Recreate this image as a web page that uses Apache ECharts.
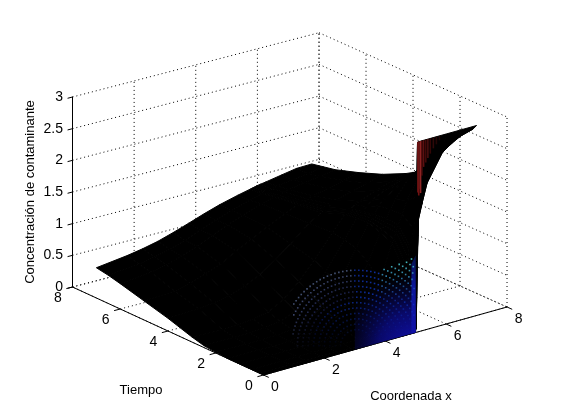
<!DOCTYPE html>
<html><head><meta charset="utf-8">
<style>html,body{margin:0;background:#fff}#c{width:561px;height:420px}</style>
<script src="https://cdn.jsdelivr.net/npm/echarts@6/dist/echarts.min.js"></script>
</head><body><div id="c"></div>
<script>
// Axis ticks
const xTicks = [0, 2, 4, 6, 8];
const tTicks = [0, 2, 4, 6, 8];
const zTicks = [0, 0.5, 1, 1.5, 2, 2.5, 3];
const zTickLabels = ['0', '0.5', '1', '1.5', '2', '2.5', '3'];
const xName = 'Coordenada x', tName = 'Tiempo', zName = 'Concentración de contaminante';

// Surface samples: rows = tiempo, columns = coordenada x
const surfX = [0, 1, 1.5, 2, 2.5, 3, 3.5, 4, 4.6, 5, 5.06, 5.13, 5.17, 5.2, 5.33, 5.49, 6, 6.5, 7];
const surfT = [0, 0.15, 0.5, 1, 1.5, 2, 2.5, 3, 4, 5, 6, 6.5, 7];
const surfZ00 = [0, 0, 0, 0, 0, 0, 0, 0, 0, 0, 3, 3, 3, 3, 3, 3, 3, 3, 3];
const surfZ015 = [0, 0, 0, 0, 0, 0, 0, 0, 0, 0, 0, 0.01, 1.21, 1.72, 1.98, 2.27, 2.69, 2.85, 2.92];
const surfZ05 = [0, 0, 0, 0, 0, 0, 0, 0.01, 0.1, 0.9, 1, 1.1, 1.2, 1.25, 1.5, 2, 2.65, 2.75, 2.8];
const surfZ10 = [0, 0, 0, 0, 0, 0.01, 0.05, 0.2, 0.7, 1.25, 1.3, 1.4, 1.45, 1.5, 1.65, 1.85, 2.3, 2.45, 2.57];
const surfZ15 = [0, 0, 0, 0.01, 0.03, 0.05, 0.15, 0.38, 0.9, 1.33, 1.37, 1.42, 1.47, 1.52, 1.65, 1.78, 2.1, 2.2, 2.31];
const surfZ20 = [0.01, 0.01, 0.01, 0.02, 0.04, 0.1, 0.28, 0.55, 1.05, 1.4, 1.42, 1.45, 1.48, 1.5, 1.62, 1.7, 1.85, 1.95, 2.04];
const surfZ25 = [0.03, 0.03, 0.03, 0.05, 0.08, 0.18, 0.38, 0.68, 1.1, 1.38, 1.4, 1.42, 1.44, 1.46, 1.52, 1.6, 1.72, 1.8, 1.85];
const surfZ30 = [0.08, 0.06, 0.07, 0.1, 0.15, 0.28, 0.5, 0.77, 1.13, 1.36, 1.38, 1.39, 1.4, 1.42, 1.47, 1.5, 1.6, 1.68, 1.74];
const surfZ40 = [0.2, 0.22, 0.25, 0.3, 0.38, 0.5, 0.68, 0.85, 1.1, 1.22, 1.24, 1.25, 1.26, 1.27, 1.3, 1.35, 1.42, 1.49, 1.56];
const surfZ50 = [0.3, 0.33, 0.38, 0.47, 0.56, 0.7, 0.82, 0.95, 1.08, 1.17, 1.18, 1.19, 1.19, 1.2, 1.22, 1.25, 1.3, 1.36, 1.42];
const surfZ60 = [0.4, 0.45, 0.5, 0.58, 0.67, 0.78, 0.88, 0.97, 1.07, 1.12, 1.13, 1.13, 1.14, 1.14, 1.16, 1.18, 1.22, 1.26, 1.298];
const surfZ65 = [0.445, 0.49, 0.54, 0.6, 0.68, 0.78, 0.87, 0.95, 1.04, 1.09, 1.1, 1.1, 1.11, 1.11, 1.13, 1.15, 1.19, 1.22, 1.26];
const surfZ70 = [0.478, 0.542, 0.585, 0.64, 0.715, 0.797, 0.883, 0.96, 1.036, 1.08, 1.088, 1.095, 1.1, 1.105, 1.115, 1.127, 1.172, 1.215, 1.222];
const surfRows = [surfZ00, surfZ015, surfZ05, surfZ10, surfZ15, surfZ20, surfZ25, surfZ30, surfZ40, surfZ50, surfZ60, surfZ65, surfZ70];

// Visible red edge of the mesh at the top of the step
const redX = [5.07, 5.1, 5.13, 5.16, 5.2, 5.26, 5.33, 5.4, 5.48, 5.58, 5.68, 5.78];
const redDrop = [0.8, 0.85, 0.75, 0.82, 0.55, 0.42, 0.36, 0.3, 0.24, 0.17, 0.12, 0.07];
const redShade = ['#641010', '#701212', '#541010', '#8c2424', '#540c0c', '#5c1010', '#420808', '#4a0e0e', '#340606', '#300808', '#240404', '#1c0404'];

// View of the box on the page
const view = { ox: 263.5, oy: 375, xx: 30.44, xy: -8.5, tx: -23.875, ty: -11, xtx: 0.047, xty: 0.058, zy: -63.33 };
const proj = (x, t, z) => [
  view.ox + view.xx * x + view.tx * t + view.xtx * x * t,
  view.oy + view.xy * x + view.ty * t + view.xty * x * t + view.zy * z
];

// dotted grid segments
const seg = [];
const X = 8, T = 8, Z = 3;
xTicks.forEach(x => { seg.push([x, 0, 0, x, T, 0]); seg.push([x, T, 0, x, T, Z]); });
tTicks.forEach(t => { seg.push([0, t, 0, X, t, 0]); seg.push([X, t, 0, X, t, Z]); });
zTicks.forEach(z => { seg.push([0, T, z, X, T, z]); seg.push([X, T, z, X, 0, z]); });

// surface cells, far to near
const cells = [];
for (let r = surfT.length - 2; r >= 0; r--) for (let c = surfX.length - 2; c >= 0; c--) cells.push([r, c]);

// moire of the mesh: polar lattice of coloured dots showing between the black lines
const moire = [];
const mc = [356, 345];
for (let ri = 3; ri <= 20; ri++) {
  const r = ri * 5.4;
  const n = Math.round(Math.PI * r / 4);
  for (let k = 0; k <= n; k++) {
    const a = Math.PI * k / n;
    const px = mc[0] - r * Math.cos(a), py = mc[1] - r * Math.sin(a);
    const dx = px - mc[0];
    const rmax = dx < 25 ? 80 : 80 + (dx - 25) * 0.8;
    if (r > rmax || px < 292 || px > 414) continue;
    const front = 375 - (px - 263.5) * 0.2795;
    if (py > front - 3) continue;
    const g = Math.max(0, (px - 285) / 130);
    const bottomFade = Math.min(1, Math.pow((front - py) / 50, 1.4));
    let col, alpha;
    if (px > 380 && py < 300) {
      const u = Math.min(1, (300 - py) / 40);
      col = [20 + 50 * u, 50 + 140 * u, 170 + 20 * u];
      alpha = 0.65 + 0.35 * u;
    } else if (r > 45 && px < 352) {
      col = [50 + 60 * (r - 45) / 35, 60 + 70 * (r - 45) / 35, 170];
      alpha = (0.3 + 0.4 * (r - 45) / 35) * bottomFade;
    } else {
      col = [18, 34 + 40 * g, 150 + 80 * g];
      alpha = (0.4 + 0.5 * g) * bottomFade;
    }
    moire.push([px, py, `rgba(${col.map(Math.round).join(',')},${alpha.toFixed(2)})`]);
  }
}

const chart = echarts.init(document.getElementById('c'), null, { renderer: 'canvas' });
const txt = (str, p, size) => ({
  type: 'text',
  style: { text: str, x: p[0], y: p[1], fill: '#000', font: size + 'px "Liberation Sans", Arial, sans-serif', align: 'center', verticalAlign: 'middle' }
});
const at = (api, x, t, z) => api.coord(proj(x, t, z));
const base = { type: 'custom', coordinateSystem: 'cartesian2d', xAxisIndex: 0, yAxisIndex: 0, silent: true, animation: false, clip: false };

chart.setOption({
  animation: false,
  backgroundColor: '#fff',
  grid: [
    { left: 0, top: 0, width: 561, height: 420 },
    { left: 72, top: 97, width: 1, height: 190 }
  ],
  xAxis: [
    { type: 'value', min: 0, max: 561, show: false, gridIndex: 0 },
    { type: 'value', min: 0, max: 1, show: false, gridIndex: 1 }
  ],
  yAxis: [
    { type: 'value', min: 0, max: 420, inverse: true, show: false, gridIndex: 0 },
    {
      type: 'value', gridIndex: 1, min: 0, max: 3, interval: 0.5, position: 'left',
      axisLine: { show: true, onZero: false, lineStyle: { color: '#000', width: 1 } },
      axisTick: { show: false },
      splitLine: { show: false },
      axisLabel: { color: '#000', fontSize: 14, fontFamily: 'Liberation Sans', margin: 9, formatter: v => zTickLabels[zTicks.indexOf(v)] },
      name: zName, nameLocation: 'middle', nameGap: 35, nameRotate: 90,
      nameTextStyle: { color: '#000', fontSize: 13, fontFamily: 'Liberation Sans' }
    }
  ],
  series: [
    // dotted grid
    Object.assign({}, base, {
      name: 'grid', data: seg.map((s, i) => [i]), z: 1,
      renderItem: (p, api) => {
        const s = seg[api.value(0)], a = at(api, s[0], s[1], s[2]), b = at(api, s[3], s[4], s[5]);
        return { type: 'line', shape: { x1: a[0], y1: a[1], x2: b[0], y2: b[1] }, style: { stroke: '#000', lineWidth: 1, lineDash: [1, 3] } };
      }
    }),
    // solid axes with ticks
    Object.assign({}, base, {
      name: 'axes', data: [[0]], z: 2,
      renderItem: (p, api) => {
        const ch = [];
        const line = (a, b) => ch.push({ type: 'line', shape: { x1: a[0], y1: a[1], x2: b[0], y2: b[1] }, style: { stroke: '#000', lineWidth: 1 } });
        line(at(api, 0, 0, 0), at(api, X, 0, 0));
        line(at(api, 0, 0, 0), at(api, 0, T, 0));
        xTicks.forEach(x => { line(at(api, x, 0, 0), at(api, x, -0.22, 0)); });
        tTicks.forEach(t => { line(at(api, 0, t, 0), at(api, -0.2, t, 0)); });
        zTicks.forEach(z => { line(at(api, 0, T, z), at(api, -0.16, T, z)); });
        xTicks.forEach(x => { const q = at(api, x, 0, 0); ch.push(txt(String(x), [q[0] + 11.5, q[1] + 12.5], 14)); });
        tTicks.forEach(t => { const q = at(api, 0, t, 0); ch.push(txt(String(t), [q[0] - 14.5, q[1] + 11.5], 14)); });
        ch.push(txt(tName, api.coord([141, 390]), 13));
        ch.push(txt(xName, api.coord([411, 396]), 13));
        return { type: 'group', children: ch };
      }
    }),
    // surface
    Object.assign({}, base, {
      name: 'surface', data: cells, z: 3,
      renderItem: (p, api) => {
        const r = api.value(0), c = api.value(1);
        const pts = [[c, r], [c + 1, r], [c + 1, r + 1], [c, r + 1]].map(q => at(api, surfX[q[0]], surfT[q[1]], surfRows[q[1]][q[0]]));
        return { type: 'polygon', shape: { points: pts }, style: { fill: '#000', stroke: '#000', lineWidth: 1 } };
      }
    }),
    // blue glow at the foot of the step
    Object.assign({}, base, {
      name: 'wall', data: [[0]], z: 4,
      renderItem: (p, api) => {
        const a = at(api, 5.0, 0, 0), b = at(api, 3.0, 0, 0), c = at(api, 5.0, 0, 1.22), d = at(api, 3.0, 0, 1.2);
        const low = at(api, 4.86, 0, 0), tip = at(api, 4.86, 0, 1.1);
        return {
          type: 'group',
          children: [
            { type: 'polygon', shape: { points: [a, b, d, c] },
              style: { fill: new echarts.graphic.RadialGradient(1, 1, 1.25, [{ offset: 0, color: 'rgba(18,18,185,1)' }, { offset: 0.5, color: 'rgba(12,12,140,0.75)' }, { offset: 1, color: 'rgba(8,8,90,0)' }]) } },
            { type: 'polygon', shape: { points: [a, low, tip, c] },
              style: { fill: new echarts.graphic.LinearGradient(0, 0, 0, 1, [{ offset: 0, color: '#061248' }, { offset: 0.4, color: '#0c169a' }, { offset: 1, color: '#1010a8' }]) } }
          ]
        };
      }
    }),
    // moire dots
    Object.assign({}, base, {
      name: 'moire', data: moire.map((m, i) => [i]), z: 5,
      renderItem: (p, api) => {
        const m = moire[api.value(0)], q = api.coord([m[0], m[1]]);
        return { type: 'rect', shape: { x: q[0], y: q[1], width: 1.6, height: 1.6 }, style: { fill: m[2] } };
      }
    }),
    // red streaks
    Object.assign({}, base, {
      name: 'red', data: redX.map((x, i) => [i]), z: 5,
      renderItem: (p, api) => {
        const i = api.value(0), a = at(api, redX[i], 0, 3), b = at(api, redX[i], 0, 3 - redDrop[i]);
        return { type: 'line', shape: { x1: a[0], y1: a[1], x2: b[0], y2: b[1] }, style: { stroke: redShade[i], lineWidth: 1.6 } };
      }
    })
  ]
});
</script></body></html>
